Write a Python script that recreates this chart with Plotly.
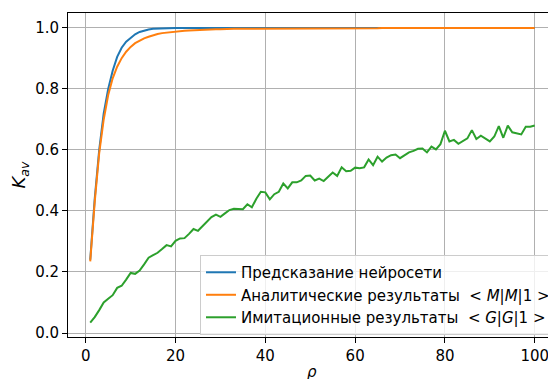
import plotly.graph_objects as go

rho = list(range(1, 101))

neural = [0.240, 0.440, 0.600, 0.720, 0.800, 0.860, 0.905, 0.935, 0.955, 0.968,
          0.979, 0.987, 0.992, 0.995, 0.997, 0.998, 0.999, 1.000, 1.000, 1.000,
          1.000, 1.000, 1.000, 1.000, 1.000, 1.000, 1.000, 1.000, 1.000, 1.000,
          1.000, 1.000, 1.000, 1.000, 1.000, 1.000, 1.000, 1.000, 1.000, 1.000,
          1.000, 1.000, 1.000, 1.000, 1.000, 1.000, 1.000, 1.000, 1.000, 1.000,
          1.000, 1.000, 1.000, 1.000, 1.000, 1.000, 1.000, 1.000, 1.000, 1.000,
          1.000, 1.000, 1.000, 1.000, 1.000, 1.000, 1.000, 1.000, 1.000, 1.000,
          1.000, 1.000, 1.000, 1.000, 1.000, 1.000, 1.000, 1.000, 1.000, 1.000,
          1.000, 1.000, 1.000, 1.000, 1.000, 1.000, 1.000, 1.000, 1.000, 1.000,
          1.000, 1.000, 1.000, 1.000, 1.000, 1.000, 1.000, 1.000, 1.000, 1.000]

analytic = [0.235, 0.430, 0.590, 0.700, 0.780, 0.835, 0.873, 0.901, 0.922, 0.938,
            0.950, 0.959, 0.966, 0.971, 0.976, 0.980, 0.983, 0.985, 0.987, 0.988,
            0.990, 0.991, 0.992, 0.993, 0.994, 0.995, 0.995, 0.996, 0.996, 0.996,
            0.997, 0.997, 0.997, 0.997, 0.997, 0.998, 0.998, 0.998, 0.998, 0.998,
            0.998, 0.998, 0.998, 0.999, 0.999, 0.999, 0.999, 0.999, 0.999, 0.999,
            0.999, 0.999, 0.999, 0.999, 0.999, 0.999, 0.999, 0.999, 0.999, 0.999,
            0.999, 0.999, 0.999, 0.999, 0.999, 1.000, 1.000, 1.000, 1.000, 1.000,
            1.000, 1.000, 1.000, 1.000, 1.000, 1.000, 1.000, 1.000, 1.000, 1.000,
            1.000, 1.000, 1.000, 1.000, 1.000, 1.000, 1.000, 1.000, 1.000, 1.000,
            1.000, 1.000, 1.000, 1.000, 1.000, 1.000, 1.000, 1.000, 1.000, 1.000]

simulation = [0.034, 0.052, 0.075, 0.100, 0.112, 0.124, 0.148, 0.155, 0.175, 0.197,
              0.194, 0.205, 0.225, 0.247, 0.255, 0.263, 0.275, 0.288, 0.284, 0.302,
              0.310, 0.311, 0.325, 0.341, 0.335, 0.350, 0.365, 0.380, 0.388, 0.381,
              0.392, 0.403, 0.407, 0.406, 0.406, 0.422, 0.412, 0.440, 0.463, 0.461,
              0.438, 0.455, 0.463, 0.490, 0.474, 0.494, 0.494, 0.500, 0.515, 0.516,
              0.500, 0.506, 0.498, 0.512, 0.526, 0.515, 0.543, 0.530, 0.532, 0.542,
              0.540, 0.543, 0.569, 0.550, 0.578, 0.562, 0.575, 0.583, 0.585, 0.573,
              0.582, 0.592, 0.597, 0.604, 0.605, 0.592, 0.611, 0.602, 0.619, 0.663,
              0.628, 0.633, 0.620, 0.630, 0.638, 0.665, 0.636, 0.647, 0.638, 0.628,
              0.644, 0.678, 0.640, 0.680, 0.658, 0.655, 0.651, 0.676, 0.676, 0.680]

names = ["Предсказание нейросети",
         "Аналитические результаты  &lt; <i>M</i>|<i>M</i>|1 &gt;",
         "Имитационные результаты  &lt; <i>G</i>|<i>G</i>|1 &gt;"]
colors = ["#1f77b4", "#ff7f0e", "#2ca02c"]

x_ticks = [0, 20, 40, 60, 80, 100]
y_ticks = [0.0, 0.2, 0.4, 0.6, 0.8, 1.0]

fig = go.Figure()
for ys, nm, c in zip([neural, analytic, simulation], names, colors):
    fig.add_trace(go.Scatter(x=rho, y=ys, mode="lines", name=nm,
                             line=dict(color=c, width=2)))

font = dict(family="DejaVu Sans", size=15, color="black")
fig.update_layout(
    width=548, height=371,
    margin=dict(l=60, r=0, t=5, b=42),
    plot_bgcolor="white", paper_bgcolor="white",
    font=font,
    showlegend=True,
    legend=dict(x=0.274, y=0.253, xanchor="left", yanchor="top",
                bgcolor="rgba(255,255,255,0.8)", bordercolor="#cccccc",
                borderwidth=1, font=font, tracegroupgap=0),
    annotations=[dict(text="<i>ρ</i>", xref="paper", yref="paper",
                      x=0.507, y=-0.108, xanchor="center", yanchor="middle",
                      showarrow=False, font=font)],
)
fig.update_xaxes(range=[-3.95, 103.4], tickvals=x_ticks,
                 ticktext=[str(v) for v in x_ticks],
                 showgrid=True, gridcolor="#b0b0b0", gridwidth=1,
                 showline=True, linecolor="black", linewidth=1, mirror=True,
                 ticks="outside", ticklen=5, tickcolor="black",
                 zeroline=False, automargin=False)
fig.update_yaxes(range=[-0.0131, 1.049], tickvals=y_ticks,
                 ticktext=[f"{v:.1f}" for v in y_ticks],
                 showgrid=True, gridcolor="#b0b0b0", gridwidth=1,
                 showline=True, linecolor="black", linewidth=1,
                 ticks="outside", ticklen=5, tickcolor="black",
                 zeroline=False, automargin=False,
                 title=dict(text="<i>K</i><sub><i>av</i></sub>", standoff=8))

fig.write_html("out.html")
